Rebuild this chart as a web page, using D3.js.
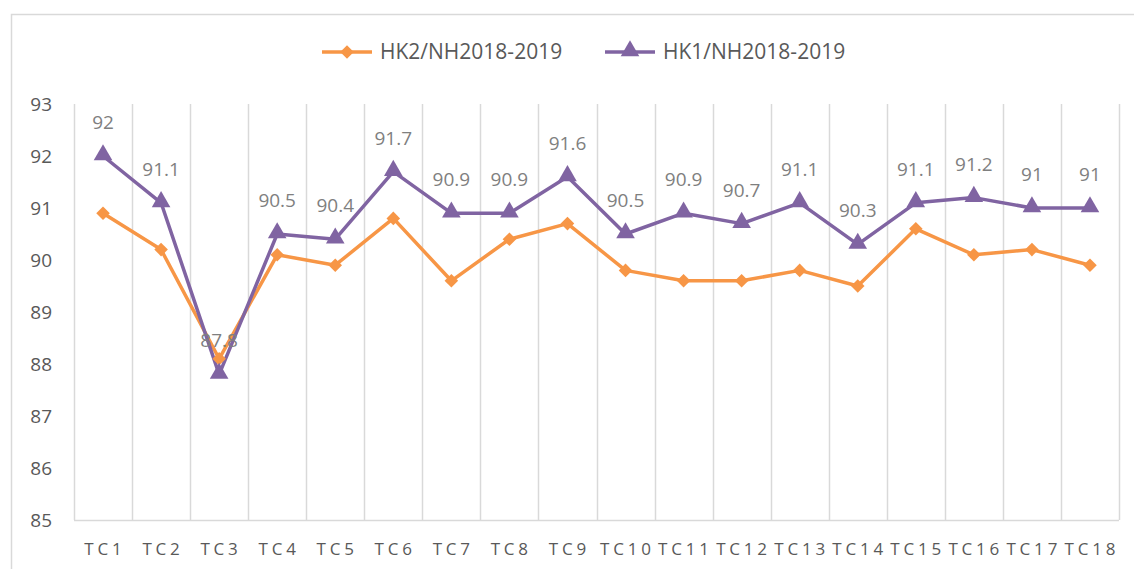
<!DOCTYPE html>
<html>
<head>
<meta charset="utf-8">
<script src="https://cdn.jsdelivr.net/npm/d3@7"></script>
<style>
  body { margin: 0; background: #fff; }
  svg { display: block; font-family: "Open Sans", sans-serif; }
</style>
</head>
<body>
<div class="chartWrap"></div>
<script>
//Data
const categories = ["TC1","TC2","TC3","TC4","TC5","TC6","TC7","TC8","TC9","TC10","TC11","TC12","TC13","TC14","TC15","TC16","TC17","TC18"];
const hk2 = [90.9, 90.2, 88.1, 90.1, 89.9, 90.8, 89.6, 90.4, 90.7, 89.8, 89.6, 89.6, 89.8, 89.5, 90.6, 90.1, 90.2, 89.9];
const hk1 = [92, 91.1, 87.8, 90.5, 90.4, 91.7, 90.9, 90.9, 91.6, 90.5, 90.9, 90.7, 91.1, 90.3, 91.1, 91.2, 91, 91];
const seriesNames = ["HK2/NH2018-2019", "HK1/NH2018-2019"];
const yTicks = [85, 86, 87, 88, 89, 90, 91, 92, 93];

//Layout
const W = 1134, H = 569;
const margin = {top: 104, right: 15, bottom: 49, left: 74};
const orange = "#f79646", purple = "#8064a2", grid = "#d9d9d9";

const svg = d3.select(".chartWrap").append("svg").attr("width", W).attr("height", H);

//Chart border (right/bottom fall outside the picture)
svg.append("rect").attr("x", 11.5).attr("y", 14.5).attr("width", 1140).attr("height", 580)
  .attr("fill", "none").attr("stroke", grid).attr("stroke-width", 1.5);

const x = d3.scaleBand().domain(categories).range([margin.left, W - margin.right]).padding(0);
const y = d3.scaleLinear().domain([85, 93]).range([H - margin.bottom, margin.top]);
const cx = d => x(d) + x.bandwidth() / 2;

//Vertical gridlines at category boundaries
const bounds = categories.map(c => x(c)).concat([x.range()[1]]);
svg.append("g").selectAll("line").data(bounds).enter().append("line")
  .attr("x1", d => Math.round(d) + 0.5).attr("x2", d => Math.round(d) + 0.5)
  .attr("y1", y(93)).attr("y2", y(85))
  .attr("stroke", grid).attr("stroke-width", 1.5);

//X axis line
svg.append("line").attr("x1", x.range()[0]).attr("x2", x.range()[1])
  .attr("y1", y(85) + 0.5).attr("y2", y(85) + 0.5).attr("stroke", grid).attr("stroke-width", 1.5);

//Y tick labels
svg.append("g").selectAll("text").data(yTicks).enter().append("text")
  .attr("x", 52).attr("y", d => y(d)).attr("dy", "0.35em")
  .attr("text-anchor", "end").attr("font-size", 19).attr("fill", "#595959")
  .text(d => d);

//X labels
const ls = 3.8;
svg.append("g").selectAll("text").data(categories).enter().append("text")
  .attr("x", d => cx(d) + ls / 2).attr("y", 555)
  .attr("text-anchor", "middle").attr("font-size", 17).attr("letter-spacing", ls)
  .attr("fill", "#595959").text(d => d);

//Lines
const line = d3.line().x((d, i) => cx(categories[i])).y(d => y(d));
svg.append("path").datum(hk2).attr("d", line).attr("fill", "none")
  .attr("stroke", orange).attr("stroke-width", 3.5).attr("stroke-linejoin", "round");
svg.append("path").datum(hk1).attr("d", line).attr("fill", "none")
  .attr("stroke", purple).attr("stroke-width", 3.5).attr("stroke-linejoin", "round");

//Markers
const diamond = d3.symbol().type(d3.symbolSquare).size(92);
const tri = d3.symbol().type(d3.symbolTriangle).size(150);
svg.append("g").selectAll("path").data(hk2).enter().append("path")
  .attr("d", diamond())
  .attr("transform", (d, i) => "translate(" + cx(categories[i]) + "," + y(d) + ") rotate(45)")
  .attr("fill", orange);
svg.append("g").selectAll("path").data(hk1).enter().append("path")
  .attr("d", tri())
  .attr("transform", (d, i) => "translate(" + cx(categories[i]) + "," + (y(d) - 1) + ")")
  .attr("fill", purple);

//Data labels (HK1 only)
svg.append("g").selectAll("text").data(hk1).enter().append("text")
  .attr("x", (d, i) => cx(categories[i])).attr("y", d => y(d) - 27)
  .attr("text-anchor", "middle").attr("font-size", 19).attr("fill", "#7f7f7f")
  .text(d => d);

//Legend
const legend = [
  {name: seriesNames[0], color: orange, shape: "diamond", x0: 322},
  {name: seriesNames[1], color: purple, shape: "tri", x0: 605}
];
const lg = svg.append("g").selectAll("g").data(legend).enter().append("g")
  .attr("transform", d => "translate(" + d.x0 + ",52)");
lg.append("line").attr("x1", 0).attr("x2", 50).attr("y1", 0).attr("y2", 0)
  .attr("stroke", d => d.color).attr("stroke-width", 3.5);
lg.append("path")
  .attr("d", d => d.shape === "diamond" ? diamond() : tri())
  .attr("transform", d => d.shape === "diamond" ? "translate(25,0) rotate(45)" : "translate(25,-1)")
  .attr("fill", d => d.color);
lg.append("text").attr("x", 58).attr("y", 0).attr("dy", "0.35em")
  .attr("font-size", 21).attr("fill", "#595959").text(d => d.name);
</script>
</body>
</html>
